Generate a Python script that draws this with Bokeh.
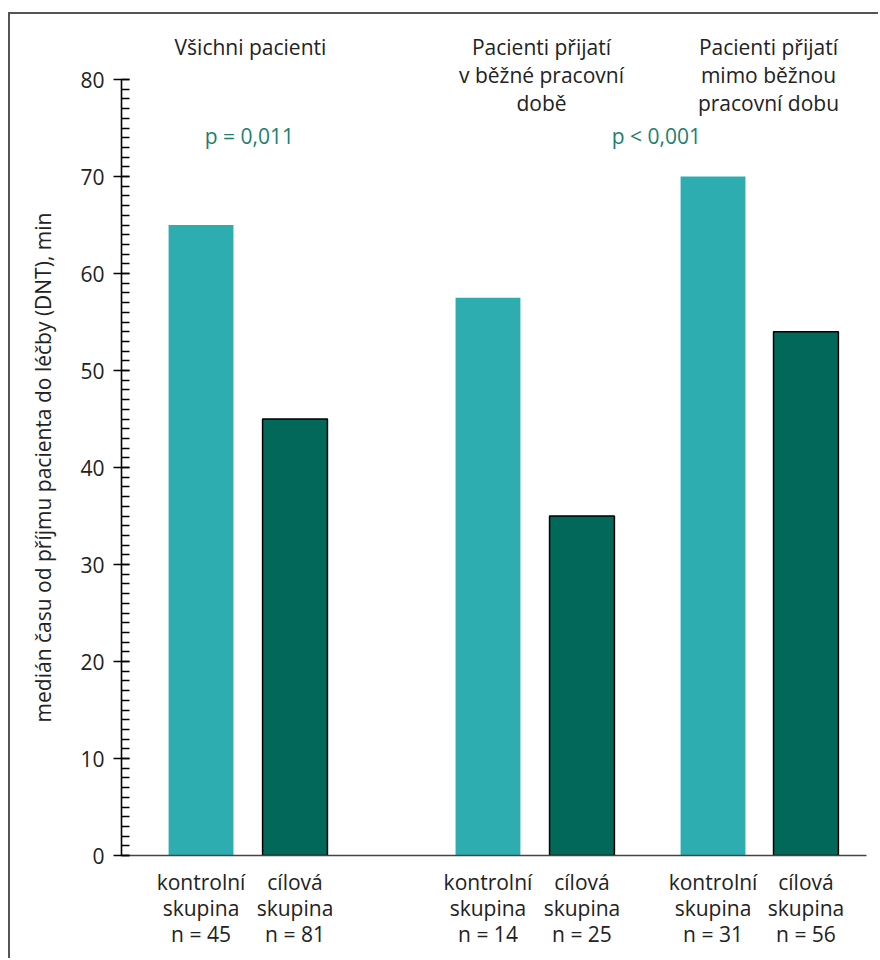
import math
from bokeh.plotting import figure
from bokeh.models import Range1d, SingleIntervalTicker, FixedTicker, Label
from bokeh.core.properties import value
from bokeh.embed import file_html
from bokeh.resources import INLINE

# ---- data ----
group_titles = ["Všichni pacienti",
                "Pacienti přijatí\nv běžné pracovní\ndobě",
                "Pacienti přijatí\nmimo běžnou\npracovní dobu"]
bar_groups = ["kontrolní\nskupina", "cílová\nskupina"] * 3
n_values = [45, 81, 14, 25, 31, 56]
medians = [65, 45, 57.5, 35, 70, 54]
p_texts = ["p = 0,011", "p < 0,001"]
y_label = "medián času od příjmu pacienta do léčby (DNT), min"
y_ticks_major = 10
y_max = 80

# ---- layout positions (x in bar-spacing units) ----
bar_x = [0.846, 1.846, 3.899, 4.899, 6.293, 7.282]
bar_w = 0.69
title_x = [1.372, 4.468, 6.883]
title_y = 84.8
p_x = [1.36, 5.69]
p_y = 75.6

LIGHT = "#2EADB0"
DARK = "#02695A"
FONT = "Open Sans"
FS = "21px"
TXT = "#222222"

p = figure(width=868, height=944, output_backend="svg", toolbar_location=None,
           x_range=Range1d(0, 7.926), y_range=Range1d(0, 841 / 9.7),
           min_border_left=111, min_border_right=14, min_border_top=0,
           min_border_bottom=105)
p.styles = {"box-sizing": "content-box", "margin-left": "8px", "margin-top": "12px",
            "border-top": "2px solid #555555", "border-left": "2px solid #555555"}
p.xgrid.visible = False
p.ygrid.visible = False
p.outline_line_color = None
p.background_fill_color = "white"

fills = [LIGHT if i % 2 == 0 else DARK for i in range(6)]
lines = [None if i % 2 == 0 else "black" for i in range(6)]
p.vbar(x=bar_x, top=medians, bottom=0, width=bar_w, fill_color=fills,
       line_color=lines, line_width=1.5)

p.text(x=title_x, y=[title_y] * 3, text=group_titles, text_font=value(FONT),
       text_font_size=FS, text_align="center", text_baseline="top",
       text_line_height=1.0, text_color=TXT)
p.text(x=p_x, y=[p_y] * 2, text=p_texts, text_font=value(FONT),
       text_font_size=FS, text_align="center", text_baseline="top",
       text_color="#1C7F6E")

# y axis
ya = p.yaxis[0]
ya.ticker = SingleIntervalTicker(interval=y_ticks_major, num_minor_ticks=10)
ya.bounds = (0, y_max)
ya.major_tick_in = 8
ya.major_tick_out = 8
ya.minor_tick_in = 8
ya.minor_tick_out = 0
ya.axis_line_width = 1.6
ya.major_tick_line_width = 1.4
ya.minor_tick_line_width = 1.4
ya.axis_line_color = "black"
ya.major_tick_line_color = "black"
ya.minor_tick_line_color = "black"
ya.major_label_text_font = FONT
ya.major_label_text_font_size = FS
ya.major_label_text_color = TXT
ya.major_label_standoff = 9

# y axis title, centred on the 0-80 span of the axis
p.add_layout(Label(x=-0.84, y=y_max / 2, text=y_label, angle=math.pi / 2,
                   text_font=FONT, text_font_size=FS, text_color=TXT,
                   text_align="center", text_baseline="middle"), "left")

# x axis
xa = p.xaxis[0]
xa.ticker = FixedTicker(ticks=bar_x)
xa.major_label_overrides = {x: f"{g}\nn = {n}" for x, g, n in zip(bar_x, bar_groups, n_values)}
xa.major_tick_in = 0
xa.major_tick_out = 0
xa.minor_tick_line_color = None
xa.axis_line_color = "#444444"
xa.axis_line_width = 1.5
xa.major_label_text_font = FONT
xa.major_label_text_font_size = FS
xa.major_label_text_color = TXT
xa.major_label_text_line_height = 0.93
xa.major_label_standoff = 12

open("out.html", "w").write(file_html(p, INLINE))
